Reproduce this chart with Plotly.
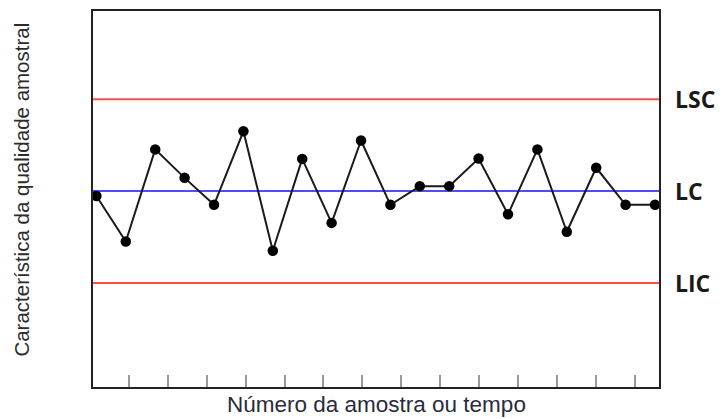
import plotly.graph_objects as go

# Sample numbers and measured quality characteristic (LC = 0)
samples = list(range(1, 21))
values = [-0.16, -1.65, 1.36, 0.43, -0.45, 1.95, -1.95, 1.05, -1.04, 1.65,
          -0.45, 0.16, 0.16, 1.06, -0.76, 1.36, -1.33, 0.76, -0.45, -0.45]

# Control limits
lsc = 3.0
lc = 0.0
lic = -3.0
limit_names = ["LSC", "LC", "LIC"]
limit_values = [lsc, lc, lic]
limit_colors = ["#ff4d4d", "#4d4dff", "#ff4d4d"]

# Bottom tick marks (unlabeled)
tick_positions = list(range(1, 15))

x_title = "Número da amostra ou tempo"
y_title = "Característica da qualidade amostral"

fig = go.Figure()

for v, c in zip(limit_values, limit_colors):
    fig.add_shape(type="line", xref="paper", x0=0, x1=1, yref="y", y0=v, y1=v,
                  line=dict(color=c, width=2), layer="below")

fig.add_trace(go.Scatter(
    x=samples, y=values, mode="lines+markers",
    line=dict(color="#1a1a1a", width=2),
    marker=dict(color="#000000", size=10.5),
    showlegend=False, hoverinfo="skip"))

# invisible trace to host the tick axis
fig.add_trace(go.Scatter(x=[tick_positions[0]], y=[lc], xaxis="x2", mode="markers",
                         marker=dict(opacity=0), showlegend=False, hoverinfo="skip"))

for name, v in zip(limit_names, limit_values):
    fig.add_annotation(text="<b>" + name + "</b>", xref="paper", x=1.025, xanchor="left",
                       yref="y", y=v, yanchor="middle", showarrow=False,
                       font=dict(family="Open Sans", size=23, color="#1a1a1a"))

fig.add_annotation(text=x_title, xref="paper", x=0.501, xanchor="center",
                   yref="paper", y=-0.047, yanchor="middle", showarrow=False,
                   font=dict(family="Liberation Sans", size=22.5, color="#2b2b3b"))
fig.add_annotation(text=y_title, xref="paper", x=-0.1254, xanchor="center",
                   yref="paper", y=0.525, yanchor="middle", textangle=-90, showarrow=False,
                   font=dict(family="Liberation Sans", size=20.5, color="#2b2b2b"))

# page body has an 8px default margin, so the figure is sized to fit the window
fig.update_layout(
    width=718, height=411,
    margin=dict(l=85, r=67, t=1, b=32),
    paper_bgcolor="white", plot_bgcolor="white",
    xaxis=dict(range=[0.884, 20.136], showgrid=False, zeroline=False,
               showticklabels=False, ticks="", showline=True, mirror=True,
               linecolor="#222222", linewidth=2),
    xaxis2=dict(overlaying="x", side="bottom", anchor="y", range=[0.072, 14.63],
                tickvals=tick_positions, ticks="inside", ticklen=12, tickwidth=1.5,
                tickcolor="#999999", showticklabels=False, showgrid=False,
                zeroline=False, showline=False),
    yaxis=dict(range=[-6.40, 5.88], showgrid=False, zeroline=False,
               showticklabels=False, ticks="", showline=True, mirror=True,
               linecolor="#222222", linewidth=2),
)

fig.write_html("out.html")
